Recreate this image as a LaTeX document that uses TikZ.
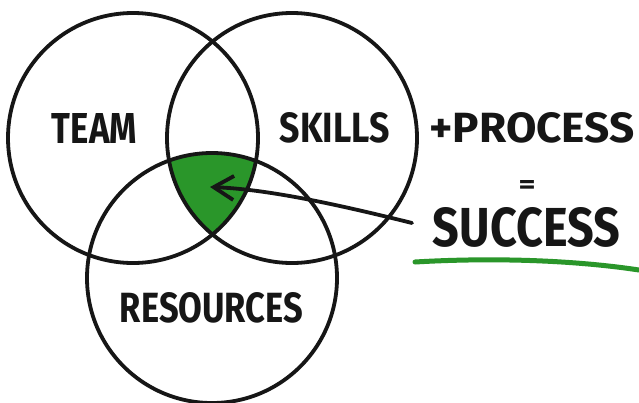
\documentclass[tikz,border=0pt]{standalone}
\usepackage{fontspec}
\setmainfont{Fira Sans}
\usepackage{graphicx}
\usetikzlibrary{arrows.meta}
\definecolor{ink}{RGB}{22,22,22}
\definecolor{leaf}{RGB}{42,150,42}
\newcommand\fitbox[3]{\resizebox{#1pt}{#2pt}{\bfseries #3}}
\tikzset{
  ring/.style={draw=ink, line width=3.8pt},
  label/.style={inner sep=0pt, outer sep=0pt, text=ink, anchor=center},
  pointer/.style={draw=ink, line width=3.8pt, line cap=round, -{Straight Barb[length=20pt,width=24pt]}},
  uline/.style={draw=leaf, line width=5pt, line cap=round}
}
\begin{document}
\begin{tikzpicture}[x=1pt,y=-1pt]
\useasboundingbox (0,0) rectangle (639,402);
\fill[white] (0,0) rectangle (639,402);
\coordinate (cT) at (133,138);
\coordinate (cS) at (292,138);
\coordinate (cR) at (212,278);
\begin{scope}
  \clip (cT) circle [radius=125];
  \clip (cS) circle [radius=125];
  \fill[leaf] (cR) circle [radius=125];
\end{scope}
\draw[ring] (cT) circle [radius=125];
\draw[ring] (cS) circle [radius=125];
\draw[ring] (cR) circle [radius=125];
\node[label] (team) at (94.5,128) {\fitbox{85}{30}{TEAM}};
\node[label] (skills) at (335,128) {\fitbox{110}{30}{SKILLS}};
\node[label] (process) at (532,127.5) {\fitbox{205}{30}{+PROCESS}};
\node[label] (eq) at (527,187) {\fitbox{17}{13}{=}};
\node[label] (success) at (526.5,227.5) {\fitbox{187}{39}{SUCCESS}};
\node[label] (res) at (211.5,308) {\fitbox{183}{30}{RESOURCES}};
\coordinate (tail) at (412,223);
\coordinate (tip) at (210,187);
\draw[pointer] (tail) .. controls (320,200) and (260,189) .. (tip);
\coordinate (u1) at (415,262);
\coordinate (u2) at (639,270);
\draw[uline] (u1) .. controls (500,257) and (580,261) .. (u2);
\end{tikzpicture}
\end{document}
